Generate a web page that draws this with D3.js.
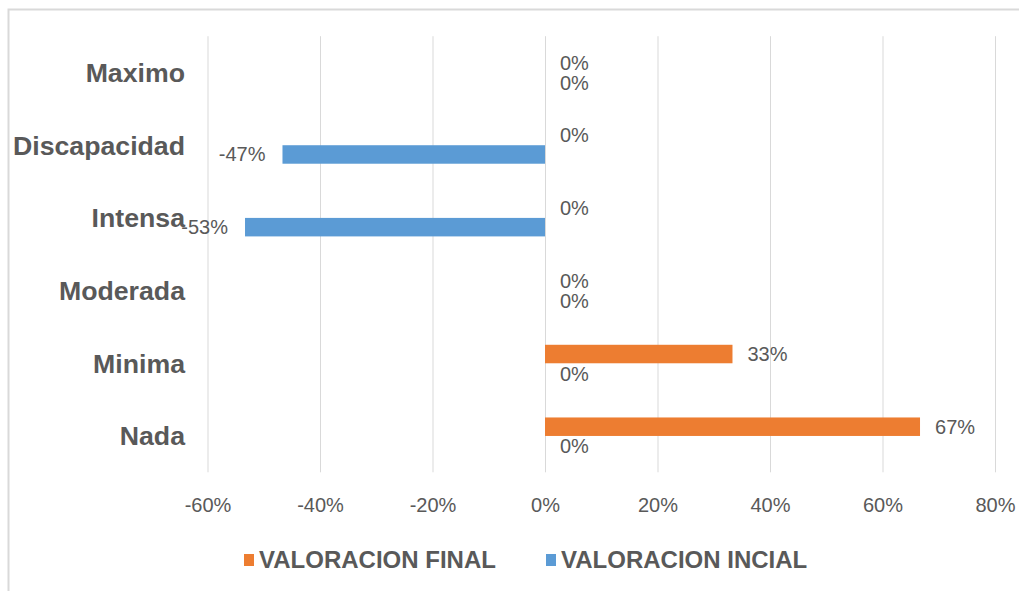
<!DOCTYPE html>
<html>
<head>
<meta charset="utf-8">
<script src="https://cdn.jsdelivr.net/npm/d3@7"></script>
<style>
  html, body { margin: 0; padding: 0; background: #fff; }
  svg { display: block; }
</style>
</head>
<body>
<svg id="chart" width="1019" height="591"></svg>
<script>
const categories = ["Maximo", "Discapacidad", "Intensa", "Moderada", "Minima", "Nada"];
const seriesNames = ["VALORACION FINAL", "VALORACION INCIAL"];
const valoracionFinal = [0, 0, 0, 0, 0.3333, 0.6667];
const valoracionInicial = [0, -0.4667, -0.5333, 0, 0, 0];
const xTicks = [-0.6, -0.4, -0.2, 0, 0.2, 0.4, 0.6, 0.8];
const colors = ["#ED7D31", "#5B9BD5"];

const svg = d3.select("#chart");

// outer frame (cropped at right/bottom)
svg.append("rect")
  .attr("x", 8.5).attr("y", 9.5)
  .attr("width", 1030).attr("height", 600)
  .attr("fill", "#fff").attr("stroke", "#d9d9d9").attr("stroke-width", 2);

const x = d3.scaleLinear().domain([-0.6, 0.8]).range([207.5, 995]);
const y = d3.scaleBand().domain(categories).range([36.2, 472.3]).paddingInner(0).paddingOuter(0);
const y1 = d3.scaleBand().domain(seriesNames).range([0, y.bandwidth()]).paddingInner(0).paddingOuter(0.965);

// gridlines
const gx = d3.axisBottom(x).tickValues(xTicks).tickSize(-(472.3 - 36.2)).tickFormat("");
const grid = svg.append("g").attr("transform", `translate(0,472.3)`).call(gx);
grid.select(".domain").remove();
grid.selectAll("line").attr("stroke", "#d9d9d9").attr("stroke-width", 1);

// tick labels
const ax = d3.axisBottom(x).tickValues(xTicks).tickSize(0).tickPadding(0)
  .tickFormat(d => Math.round(d * 100) + "%");
const axisG = svg.append("g").attr("transform", `translate(0,504.5)`).call(ax);
axisG.select(".domain").remove();
axisG.selectAll("text")
  .attr("dy", "0.35em")
  .attr("fill", "#595959")
  .style("font-family", "'Liberation Sans', Arial, sans-serif")
  .style("font-size", "20px");

// category labels
svg.append("g").selectAll("text").data(categories).join("text")
  .attr("x", 185)
  .attr("y", d => y(d) + y.bandwidth() / 2)
  .attr("dy", "0.35em")
  .attr("text-anchor", "end")
  .attr("fill", "#595959")
  .style("font-family", "'Liberation Sans', Arial, sans-serif")
  .style("font-weight", "bold")
  .style("font-size", "26.7px")
  .text(d => d);

// bars
const series = [
  { name: seriesNames[0], values: valoracionFinal, color: colors[0] },
  { name: seriesNames[1], values: valoracionInicial, color: colors[1] }
];

series.forEach(s => {
  const data = categories.map((c, i) => ({ cat: c, v: s.values[i] }));
  const g = svg.append("g");
  g.selectAll("rect").data(data).join("rect")
    .attr("x", d => x(Math.min(0, d.v)))
    .attr("y", d => y(d.cat) + y1(s.name))
    .attr("width", d => Math.abs(x(d.v) - x(0)))
    .attr("height", y1.bandwidth())
    .attr("fill", s.color);
  g.selectAll("text").data(data).join("text")
    .attr("x", d => d.v < 0 ? x(d.v) - 17 : x(d.v) + 15)
    .attr("y", d => y(d.cat) + y1(s.name) + y1.bandwidth() / 2 + (d.v === 0 ? (s.name === seriesNames[0] ? -0.5 : 1) : 0))
    .attr("dy", "0.35em")
    .attr("text-anchor", d => d.v < 0 ? "end" : "start")
    .attr("fill", "#595959")
    .style("font-family", "'Liberation Sans', Arial, sans-serif")
    .style("font-size", "20px")
    .text(d => Math.round(d.v * 100) + "%");
});

// legend
const legendItems = [
  { name: seriesNames[0], color: colors[0], x: 244 },
  { name: seriesNames[1], color: colors[1], x: 546 }
];
const lg = svg.append("g");
legendItems.forEach(it => {
  lg.append("rect").attr("x", it.x).attr("y", 554).attr("width", 10).attr("height", 12).attr("fill", it.color);
  lg.append("text")
    .attr("x", it.x + 15).attr("y", 559.5).attr("dy", "0.35em")
    .attr("fill", "#595959")
    .style("font-family", "'Liberation Sans', Arial, sans-serif")
    .style("font-weight", "bold")
    .style("font-size", "24px")
    .text(it.name);
});
</script>
</body>
</html>
